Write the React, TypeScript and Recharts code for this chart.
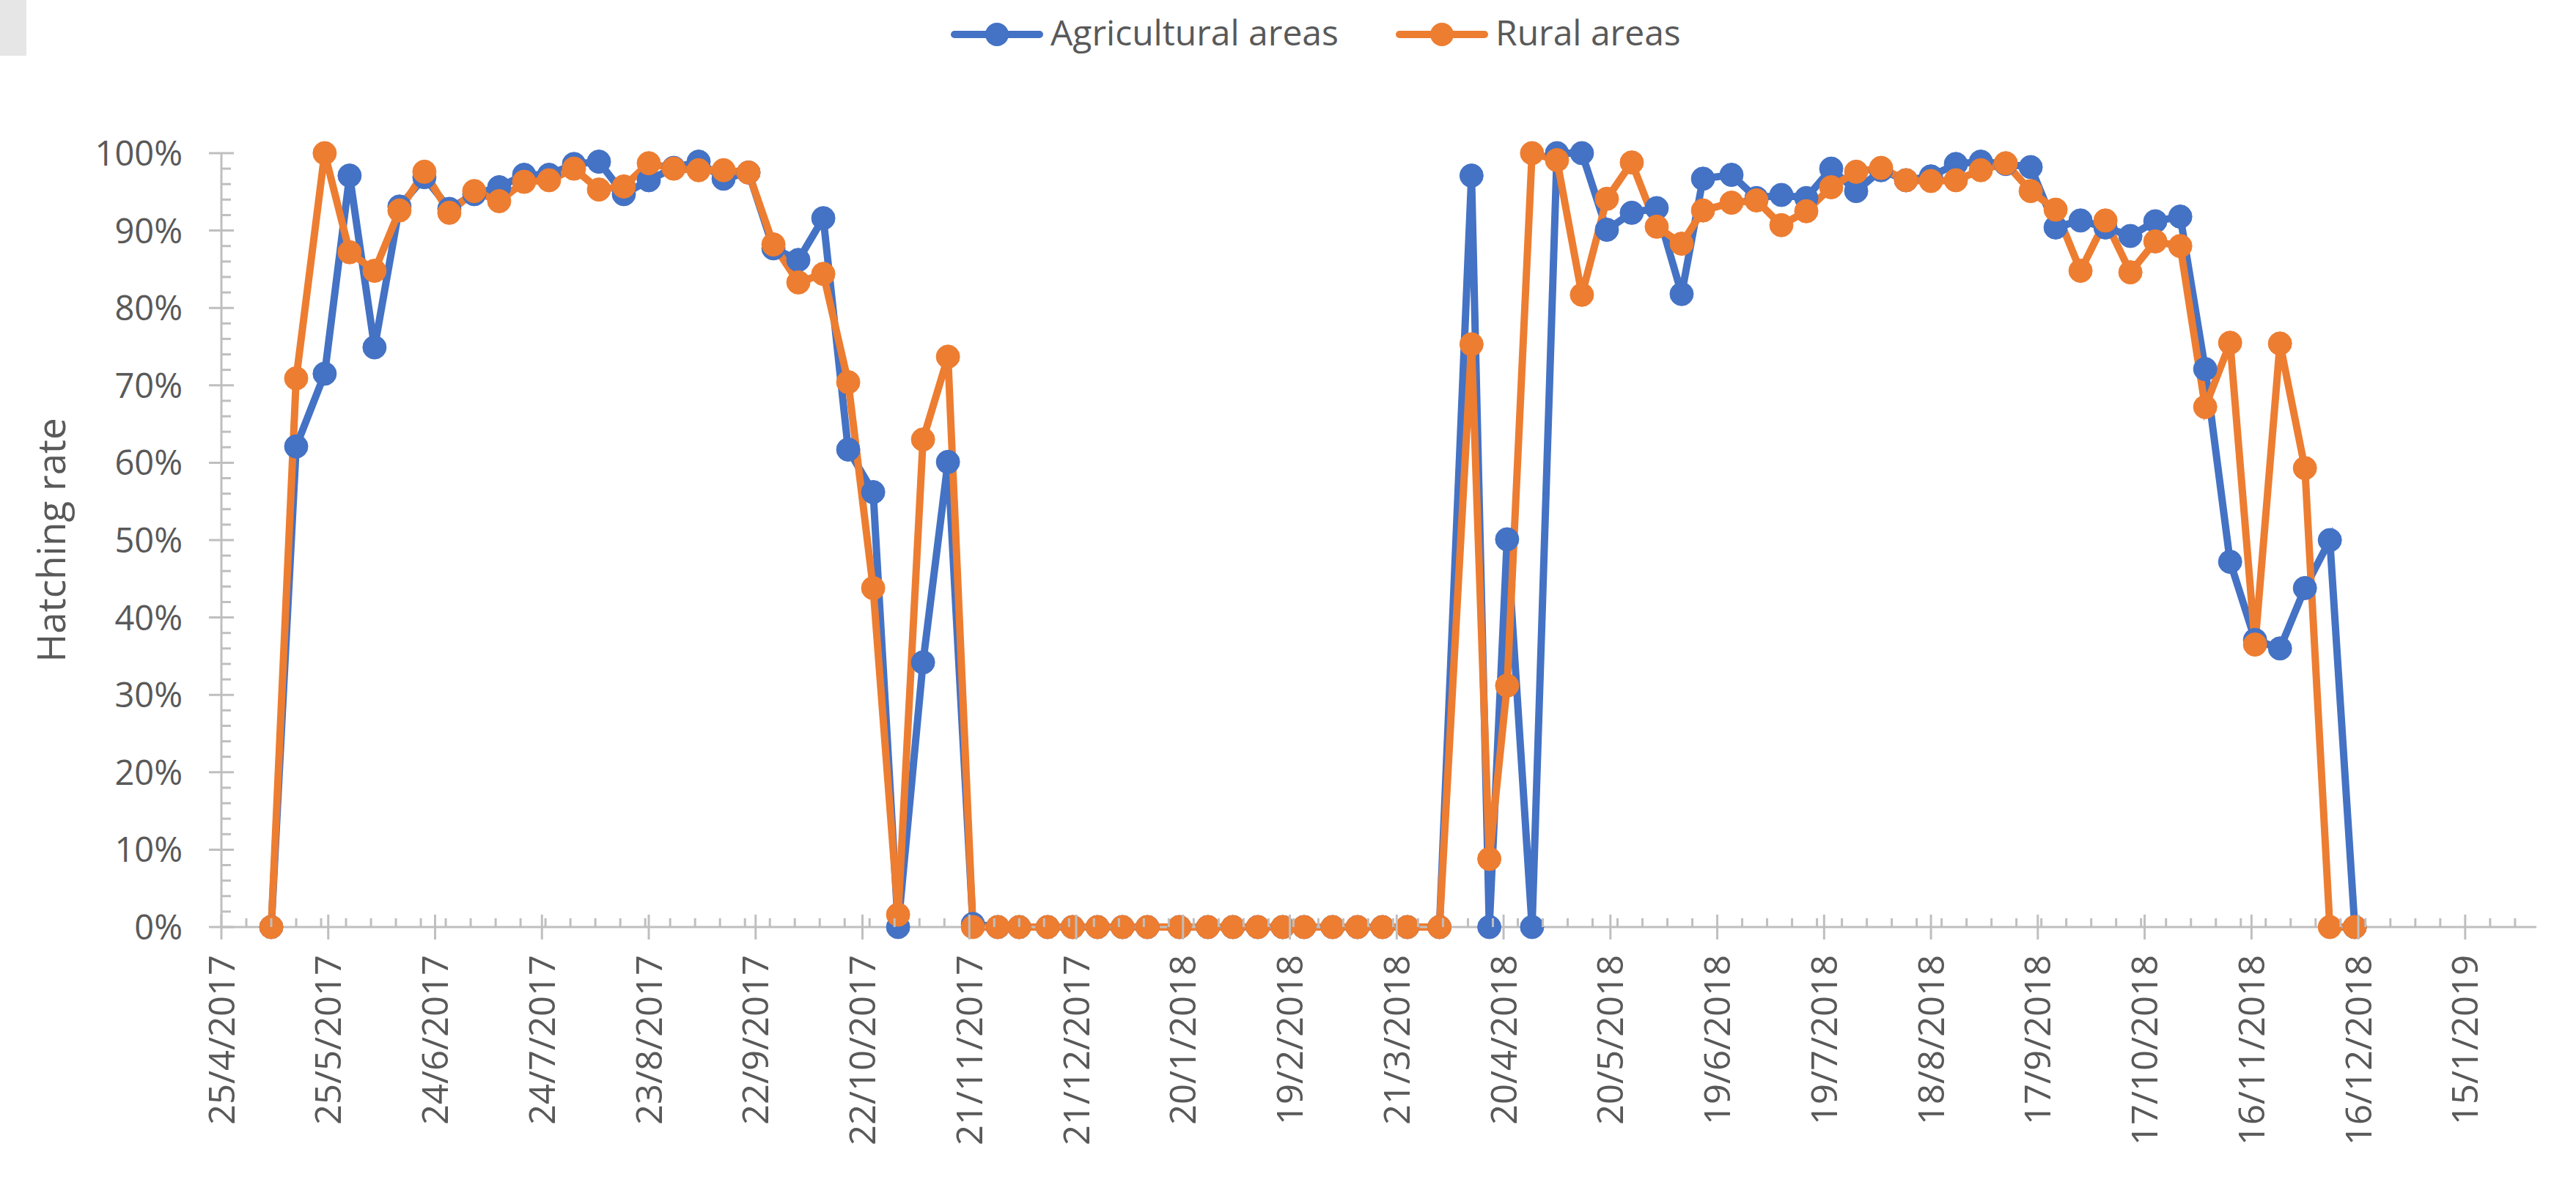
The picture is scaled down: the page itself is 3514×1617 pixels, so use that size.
import React from 'react';
import { LineChart, Line, XAxis, YAxis, Legend } from 'recharts';

// ---------- data ----------
const DATES = [
  '9/5/2017', '16/5/2017', '24/5/2017', '31/5/2017', '7/6/2017', '14/6/2017', '21/6/2017', '28/6/2017',
  '5/7/2017', '12/7/2017', '19/7/2017', '26/7/2017', '2/8/2017', '9/8/2017', '16/8/2017', '23/8/2017',
  '30/8/2017', '6/9/2017', '13/9/2017', '20/9/2017', '27/9/2017', '4/10/2017', '11/10/2017', '18/10/2017',
  '25/10/2017', '1/11/2017', '8/11/2017', '15/11/2017', '22/11/2017', '29/11/2017', '5/12/2017', '13/12/2017',
  '20/12/2017', '27/12/2017', '3/1/2018', '10/1/2018', '19/1/2018', '27/1/2018', '3/2/2018', '10/2/2018',
  '17/2/2018', '23/2/2018', '3/3/2018', '10/3/2018', '17/3/2018', '24/3/2018', '2/4/2018', '11/4/2018',
  '16/4/2018', '21/4/2018', '28/4/2018', '5/5/2018', '12/5/2018', '19/5/2018', '26/5/2018', '2/6/2018',
  '9/6/2018', '15/6/2018', '23/6/2018', '30/6/2018', '7/7/2018', '14/7/2018', '21/7/2018', '28/7/2018',
  '4/8/2018', '11/8/2018', '18/8/2018', '25/8/2018', '1/9/2018', '8/9/2018', '15/9/2018', '22/9/2018',
  '29/9/2018', '6/10/2018', '13/10/2018', '20/10/2018', '27/10/2018', '3/11/2018', '10/11/2018', '17/11/2018',
  '24/11/2018', '1/12/2018', '8/12/2018', '15/12/2018',
];

const AGRICULTURAL = [
  0, 62.1, 71.5, 97.1, 74.9, 93.1, 96.9, 92.8,
  94.7, 95.6, 97.2, 97.2, 98.6, 98.9, 94.7, 96.5,
  98.1, 98.9, 96.7, 97.5, 87.7, 86.2, 91.6, 61.7,
  56.2, 0, 34.2, 60.1, 0.4, 0, 0, 0,
  0, 0, 0, 0, 0, 0, 0, 0,
  0, 0, 0, 0, 0, 0, 0, 97.1,
  0, 50.1, 0, 100, 100, 90.1, 92.3, 92.9,
  81.8, 96.7, 97.2, 94.2, 94.6, 94.2, 98.0, 95.1,
  97.8, 96.5, 97.0, 98.6, 98.9, 98.6, 98.2, 90.4,
  91.3, 90.4, 89.3, 91.2, 91.8, 72.1, 47.2, 37.1,
  36.0, 43.8, 50.0, 0,
];

const RURAL = [
  0, 70.9, 100, 87.2, 84.8, 92.6, 97.6, 92.3,
  95.1, 93.8, 96.3, 96.5, 98.0, 95.3, 95.7, 98.7,
  98.0, 97.8, 97.8, 97.5, 88.2, 83.3, 84.4, 70.4,
  43.8, 1.6, 63.0, 73.7, 0, 0, 0, 0,
  0, 0, 0, 0, 0, 0, 0, 0,
  0, 0, 0, 0, 0, 0, 0, 75.3,
  8.8, 31.2, 100, 99.1, 81.7, 94.1, 98.8, 90.5,
  88.3, 92.6, 93.6, 93.9, 90.7, 92.5, 95.6, 97.6,
  98.1, 96.5, 96.4, 96.5, 97.8, 98.7, 95.1, 92.7,
  84.8, 91.3, 84.6, 88.6, 88.0, 67.2, 75.5, 36.5,
  75.4, 59.3, 0, 0,
];

const X_TICK_LABELS = [
  '25/4/2017', '25/5/2017', '24/6/2017', '24/7/2017', '23/8/2017', '22/9/2017', '22/10/2017',
  '21/11/2017', '21/12/2017', '20/1/2018', '19/2/2018', '21/3/2018', '20/4/2018', '20/5/2018',
  '19/6/2018', '19/7/2018', '18/8/2018', '17/9/2018', '17/10/2018', '16/11/2018', '16/12/2018',
  '15/1/2019',
];

const Y_TICK_VALUES = [0, 0.1, 0.2, 0.3, 0.4, 0.5, 0.6, 0.7, 0.8, 0.9, 1];

const SERIES_NAMES = ['Agricultural areas', 'Rural areas'];

// ---------- styling / layout ----------
const W = 3514;
const H = 1617;
const FONT = "'Open Sans', 'Noto Sans', sans-serif";
const TEXT = '#595959';
const AXIS = '#BFBFBF';
const COLORS = ['#4472C4', '#ED7D31'];
const X_MAX_DAYS = 650;
const MINOR_X_STEP = 7;
const MINOR_Y_PER_MAJOR = 5;
const LEGEND_X = [1297, 1904];

// ---------- derived ----------
const DAY_MS = 86400000;
const parseDate = (s: string) => {
  const [d, m, y] = s.split('/').map(Number);
  return Date.UTC(y, m - 1, d);
};
const ORIGIN = parseDate(X_TICK_LABELS[0]);
const toDay = (s: string) => Math.round((parseDate(s) - ORIGIN) / DAY_MS);

const data = DATES.map((d, i) => ({
  day: toDay(d),
  agri: AGRICULTURAL[i] / 100,
  rural: RURAL[i] / 100,
}));

const MAJOR_X = new Map<number, string>(X_TICK_LABELS.map((l) => [toDay(l), l]));
const xTickSet = new Set<number>(MAJOR_X.keys());
for (let d = 0; d <= X_MAX_DAYS; d += MINOR_X_STEP) xTickSet.add(d);
const X_TICKS = Array.from(xTickSet).sort((a, b) => a - b);

const Y_TICKS: number[] = [];
const Y_MAJOR = new Set<number>();
for (let i = 0; i < Y_TICK_VALUES.length; i++) {
  const v = Y_TICK_VALUES[i];
  Y_MAJOR.add(Math.round(v * 1000));
  Y_TICKS.push(v);
  if (i < Y_TICK_VALUES.length - 1) {
    const step = (Y_TICK_VALUES[i + 1] - v) / MINOR_Y_PER_MAJOR;
    for (let k = 1; k < MINOR_Y_PER_MAJOR; k++) Y_TICKS.push(v + step * k);
  }
}

const XTick = (props: any) => {
  const { x, y, payload } = props;
  const label = MAJOR_X.get(payload.value);
  if (label === undefined) {
    return <line x1={x} x2={x} y1={y - 12} y2={y} stroke={AXIS} strokeWidth={3} />;
  }
  const ty = y + 38;
  return (
    <g>
      <line x1={x} x2={x} y1={y - 17} y2={y + 17} stroke={AXIS} strokeWidth={3} />
      <text
        x={x}
        y={ty}
        transform={`rotate(-90, ${x}, ${ty})`}
        textAnchor="end"
        dy="0.36em"
        fontSize={49}
        fontFamily={FONT}
        fill={TEXT}
      >
        {label}
      </text>
    </g>
  );
};

const YTick = (props: any) => {
  const { x, y, payload } = props;
  const v = payload.value as number;
  const isMajor = Y_MAJOR.has(Math.round(v * 1000));
  if (!isMajor) {
    return <line x1={x} x2={x + 13} y1={y} y2={y} stroke={AXIS} strokeWidth={3} />;
  }
  return (
    <g>
      <line x1={x - 17} x2={x + 17} y1={y} y2={y} stroke={AXIS} strokeWidth={3} />
      <text x={x - 53} y={y} dy="0.36em" textAnchor="end" fontSize={47} fontFamily={FONT} fill={TEXT}>
        {`${Math.round(v * 100)}%`}
      </text>
    </g>
  );
};

const renderLegend = () => (
  <svg width={W} height={100} style={{ display: 'block' }}>
    {SERIES_NAMES.map((name, i) => {
      const x0 = LEGEND_X[i];
      return (
        <g key={name}>
          <line x1={x0 + 5} x2={x0 + 121} y1={47} y2={47} stroke={COLORS[i]} strokeWidth={10} strokeLinecap="round" />
          <circle cx={x0 + 63} cy={47} r={16} fill={COLORS[i]} />
          <text x={x0 + 136} y={62} fontSize={48} fontFamily={FONT} fill={TEXT}>
            {name}
          </text>
        </g>
      );
    })}
  </svg>
);

const yTitle = (props: any) => {
  const vb = props.viewBox || { x: 0, y: 209, width: 302, height: 1056 };
  const cx = vb.x + 89;
  const cy = vb.y + vb.height / 2;
  return (
    <text
      x={cx}
      y={cy}
      transform={`rotate(-90, ${cx}, ${cy})`}
      textAnchor="middle"
      fontSize={53}
      fontFamily={FONT}
      fill={TEXT}
    >
      Hatching rate
    </text>
  );
};

export default function App() {
  return (
    <div style={{ position: 'absolute', left: 0, top: 0, width: W, height: H, background: '#fff', fontFamily: FONT }}>
      <div style={{ position: 'absolute', left: 0, top: 0, width: 36, height: 76, background: '#E7E6E6' }} />
      <LineChart
        width={W}
        height={H}
        data={data}
        margin={{ top: 209, right: 54, bottom: 0, left: 0 }}
        style={{ fontFamily: FONT }}
      >
        <XAxis
          dataKey="day"
          type="number"
          domain={[0, X_MAX_DAYS]}
          ticks={X_TICKS}
          interval={0}
          height={352}
          tickLine={false}
          tickSize={0}
          tickMargin={0}
          axisLine={{ stroke: AXIS, strokeWidth: 3 }}
          tick={<XTick />}
        />
        <YAxis
          type="number"
          domain={[0, 1]}
          ticks={Y_TICKS}
          interval={0}
          width={302}
          tickLine={false}
          tickSize={0}
          tickMargin={0}
          axisLine={{ stroke: AXIS, strokeWidth: 3 }}
          tick={<YTick />}
          label={yTitle}
        />
        <Legend
          layout="horizontal"
          verticalAlign="middle"
          align="center"
          wrapperStyle={{ position: 'absolute', top: 0, left: 0, width: W, height: 100 }}
          content={renderLegend}
        />
        <Line
          type="linear"
          dataKey="agri"
          name={SERIES_NAMES[0]}
          stroke={COLORS[0]}
          strokeWidth={10}
          dot={{ r: 16, fill: COLORS[0], stroke: COLORS[0], strokeWidth: 1 }}
          activeDot={false}
          isAnimationActive={false}
        />
        <Line
          type="linear"
          dataKey="rural"
          name={SERIES_NAMES[1]}
          stroke={COLORS[1]}
          strokeWidth={10}
          dot={{ r: 16, fill: COLORS[1], stroke: COLORS[1], strokeWidth: 1 }}
          activeDot={false}
          isAnimationActive={false}
        />
      </LineChart>
    </div>
  );
}
